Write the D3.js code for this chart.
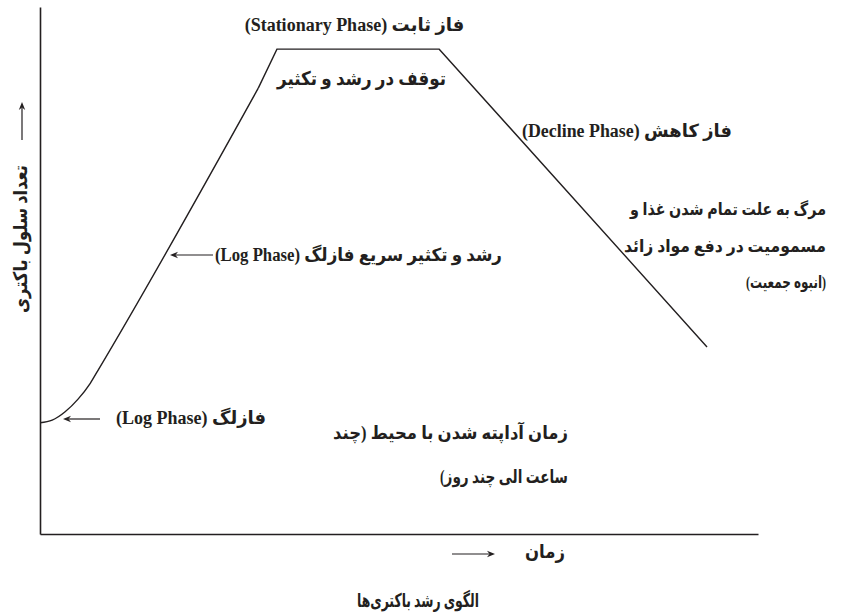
<!DOCTYPE html>
<html lang="fa">
<head>
<meta charset="utf-8">
<script src="https://cdn.jsdelivr.net/npm/d3@7"></script>
<style>
  html, body { margin: 0; padding: 0; background: #fff; }
  svg { display: block; }
</style>
</head>
<body>
<svg id="chart" width="863" height="615"></svg>
<script>
// Bacterial growth curve: time (arbitrary units) vs. population size (arbitrary units)
const time  = [0, 1.7, 3.5, 5.3, 7.0, 8.1, 30.4, 33.0, 55.6, 92.9];
const count = [21.1, 21.6, 23.2, 25.6, 28.6, 31.1, 84.6, 92.0, 92.0, 35.5];
// index where the smooth rise (lag + log phase) ends and the straight segments begin
const riseEnd = 6;

const axisTitleX = "زمان";
const axisTitleY = "تعداد سلول باکتری";
const chartTitle = "الگوی رشد باکتری\u200Cها";

const ink = "#231f20";
const fontFamily = '"Liberation Serif", "DejaVu Sans", serif';

const svg = d3.select("#chart");
const plot = { left: 40, right: 758, top: 7, bottom: 534 };

const x = d3.scaleLinear().domain([0, 100]).range([plot.left, plot.right]);
const y = d3.scaleLinear().domain([0, 100]).range([plot.bottom, plot.top]);

// axes: bare lines, no ticks
svg.append("g")
  .attr("transform", `translate(0,${plot.bottom})`)
  .call(d3.axisBottom(x).tickValues([]).tickSizeOuter(0))
  .call(g => g.select(".domain").attr("stroke", ink).attr("stroke-width", 1.6));
svg.append("g")
  .attr("transform", `translate(${plot.left},0)`)
  .call(d3.axisLeft(y).tickValues([]).tickSizeOuter(0))
  .call(g => g.select(".domain").attr("stroke", ink).attr("stroke-width", 1.6));

const pts = time.map((t, i) => ({ t, c: count[i] }));

// smooth lag-to-log rise
const riseLine = d3.line().x(d => x(d.t)).y(d => y(d.c)).curve(d3.curveMonotoneX);
svg.append("path")
  .datum(pts.slice(0, riseEnd + 1))
  .attr("d", riseLine)
  .attr("fill", "none").attr("stroke", ink).attr("stroke-width", 1.4);

// straight segments: bend, stationary plateau, decline
const straight = d3.line().x(d => x(d.t)).y(d => y(d.c)).curve(d3.curveLinear);
svg.append("path")
  .datum(pts.slice(riseEnd))
  .attr("d", straight)
  .attr("fill", "none").attr("stroke", ink).attr("stroke-width", 1.4)
  .attr("stroke-linejoin", "miter");

// arrow from (x1,y1) to (x2,y2), head at the second point
function arrow(x1, y1, x2, y2) {
  const dx = x2 - x1, dy = y2 - y1, L = Math.hypot(dx, dy);
  const ux = dx / L, uy = dy / L, px = -uy, py = ux;
  const hl = 8, hw = 3.2, notch = 5.5;
  svg.append("line")
    .attr("x1", x1).attr("y1", y1)
    .attr("x2", x2 - ux * notch).attr("y2", y2 - uy * notch)
    .attr("stroke", ink).attr("stroke-width", 1.2);
  const head = [
    [x2, y2],
    [x2 - ux * hl + px * hw, y2 - uy * hl + py * hw],
    [x2 - ux * notch, y2 - uy * notch],
    [x2 - ux * hl - px * hw, y2 - uy * hl - py * hw]
  ];
  svg.append("path").attr("d", "M" + head.join("L") + "Z").attr("fill", ink);
}

// one right-to-left line of text centred on cx; squeezed to `width` only if wider.
// Returns the text and its final width.
function label(parent, s, cx, cy, width, size) {
  const t = parent.append("text")
    .attr("direction", "rtl")
    .attr("font-family", fontFamily)
    .attr("font-weight", "bold")
    .attr("font-size", size)
    .attr("fill", ink)
    .attr("text-anchor", "middle")
    .attr("x", cx).attr("y", cy).attr("dy", "0.35em")
    .text(s);
  let w = t.node().getComputedTextLength();
  if (w > width) {
    t.attr("textLength", width).attr("lengthAdjust", "spacingAndGlyphs");
    w = width;
  }
  return { t, w };
}
// centred single line spanning [left, right]
function centred(s, left, right, cy, size) {
  label(svg, s, (left + right) / 2, cy, right - left, size);
}
// right-aligned block: each entry [text, max width, y]
function block(lines, right, size) {
  lines.forEach(([s, maxW, cy]) => {
    const { t, w } = label(svg, s, 0, cy, maxW, size);
    t.attr("x", right - w / 2);
  });
}

// phase annotations
centred("فاز ثابت (Stationary Phase)", 237, 472, 25, 18);
centred("توقف در رشد و تکثیر", 277, 446, 78, 19);
centred("فاز کاهش (Decline Phase)", 522, 732, 131, 18);
block([
  ["مرگ به علت تمام شدن غذا و", 196, 209],
  ["مسمومیت در دفع مواد زائد", 202, 246],
  ["(انبوه جمعیت)", 80, 282]
], 826, 17);
centred("رشد و تکثیر سریع فازلگ (Log Phase)", 215, 502, 255, 18);
centred("فازلگ (Log Phase)", 110, 272, 418, 18);
block([
  ["زمان آداپته شدن با محیط (چند", 235, 433],
  ["ساعت الی چند روز)", 128, 477]
], 568, 18);

arrow(213, 255, 170, 255);
arrow(100, 419, 63, 419);

// axis titles
block([[axisTitleX, 40, 551]], 565, 19);
arrow(452, 554, 495, 554);

const yTitle = svg.append("g").attr("transform", "translate(20,239) rotate(-90)");
label(yTitle, axisTitleY, 0, 0, 148, 19);
arrow(22, 140, 22, 102);

// figure title
centred(chartTitle, 357, 479, 600, 19);
</script>
</body>
</html>
